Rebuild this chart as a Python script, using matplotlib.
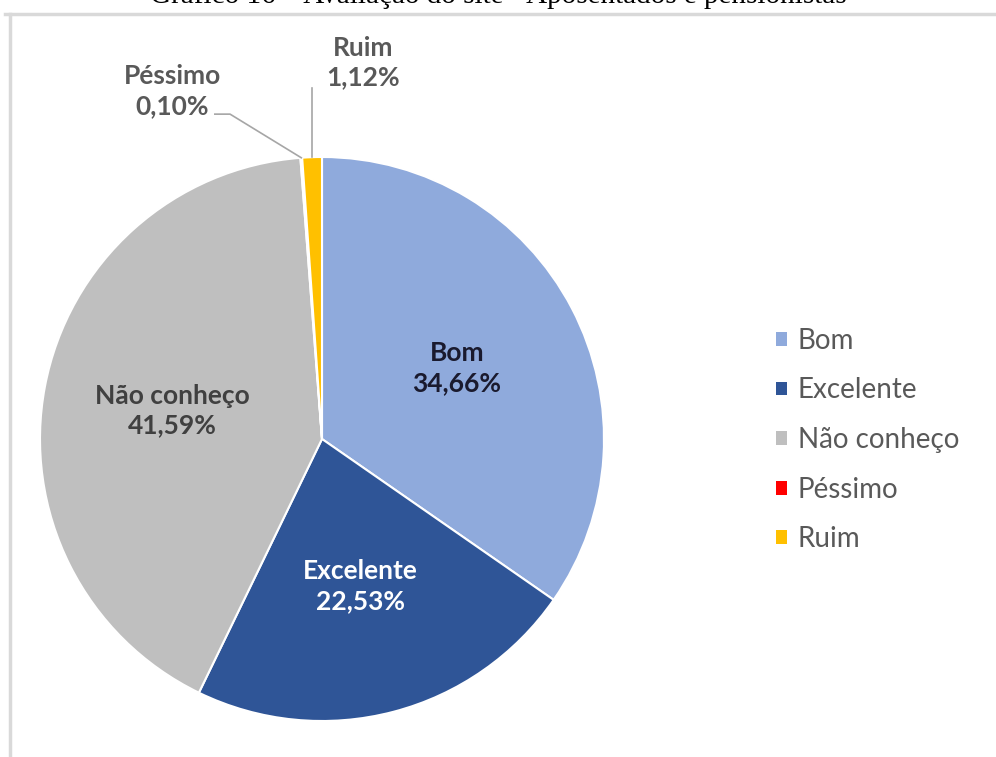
import matplotlib
matplotlib.use("Agg")
import matplotlib.pyplot as plt
import numpy as np
from matplotlib.lines import Line2D
from matplotlib.patches import Patch

categories = ["Bom", "Excelente", "Não conheço", "Péssimo", "Ruim"]
values = [34.66, 22.53, 41.59, 0.10, 1.12]
value_labels = ["34,66%", "22,53%", "41,59%", "0,10%", "1,12%"]
colors = ["#8FAADC", "#2F5597", "#BFBFBF", "#FF0000", "#FFC000"]
title = "Gráfico 16 – Avaliação do site - Aposentados e pensionistas"

W, H = 996, 757
fig = plt.figure(figsize=(W / 100, H / 100), dpi=100)
fig.patch.set_facecolor("white")

# frame
fig.add_artist(Line2D([5 / W, 1], [1 - 14 / H, 1 - 14 / H], color="#D9D9D9", lw=2.5))
fig.add_artist(Line2D([9.5 / W, 9.5 / W], [0, 1 - 14 / H], color="#D9D9D9", lw=2.5))

# title (cut off at top, as in the reference)
fig.text(0.5, 1 - 3 / H, title, ha="center", va="baseline",
         family="Liberation Serif", fontsize=21, color="black")

cx, cy, R = 322, 439, 282
ax = fig.add_axes([(cx - R) / W, (H - cy - R) / H, 2 * R / W, 2 * R / H])

wedges, _ = ax.pie(values, colors=colors, startangle=90, counterclock=False,
                   radius=1, wedgeprops=dict(edgecolor="white", linewidth=1.5),
                   center=(0, 0), frame=False)
ax.set_xlim(-1, 1)
ax.set_ylim(-1, 1)
ax.set_aspect("equal")
ax.axis("off")

fnt = "Lato"
lab_size = 19
inside_colors = {"Bom": "#1A1A2E", "Excelente": "white", "Não conheço": "#404040"}
for w, cat, lab in zip(wedges, categories, value_labels):
    mid = np.deg2rad((w.theta1 + w.theta2) / 2)
    if cat in inside_colors:
        r = 0.54
        ax.text(r * np.cos(mid), r * np.sin(mid), f"{cat}\n{lab}", ha="center", va="center",
                fontsize=lab_size, fontweight="bold", family=fnt, color=inside_colors[cat],
                linespacing=1.3)

# outside labels with leader lines
wp = wedges[3]
mid = np.deg2rad((wp.theta1 + wp.theta2) / 2)
ax.plot([np.cos(mid), -0.326, -0.38], [np.sin(mid), 1.152, 1.152], color="#A6A6A6", lw=1.2,
        clip_on=False)
ax.text(-0.53, 1.235, f"{categories[3]}\n{value_labels[3]}", ha="center", va="center",
        fontsize=lab_size, fontweight="bold", family=fnt, color="#595959", linespacing=1.3)

wr = wedges[4]
mid = np.deg2rad((wr.theta1 + wr.theta2) / 2)
ax.plot([np.cos(mid), np.cos(mid)], [np.sin(mid), 1.245], color="#A6A6A6", lw=1.2,
        clip_on=False)
ax.text(0.145, 1.335, f"{categories[4]}\n{value_labels[4]}", ha="center", va="center",
        fontsize=lab_size, fontweight="bold", family=fnt, color="#595959", linespacing=1.3)

handles = [Patch(facecolor=c, edgecolor="none") for c in colors]
leg = fig.legend(handles, categories, loc="center left", bbox_to_anchor=(751 / W, 1 - 440 / H),
                 frameon=False, prop=dict(family=fnt, size=20), labelcolor="#595959",
                 handlelength=0.38, handleheight=0.38, handletextpad=0.4, labelspacing=0.85)

fig.savefig("out.png", dpi=100, facecolor="white")
